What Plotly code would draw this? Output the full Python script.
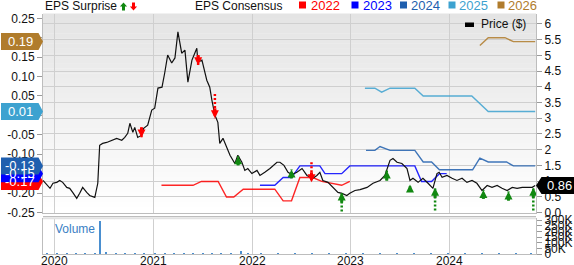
import plotly.graph_objects as go

# ---------------- data ----------------
price_dates = [
    "2019-11-18", "2019-12-03", "2019-12-14", "2019-12-25", "2020-01-08", "2020-01-19", "2020-01-30",
    "2020-02-14", "2020-02-25", "2020-03-07", "2020-03-22", "2020-04-02", "2020-04-13", "2020-04-28",
    "2020-05-09", "2020-05-28", "2020-06-08", "2020-06-15", "2020-06-26", "2020-07-11", "2020-07-30",
    "2020-08-17", "2020-09-05", "2020-09-16", "2020-09-27", "2020-10-05", "2020-10-16", "2020-10-23",
    "2020-11-03", "2020-11-18", "2020-11-25", "2020-12-10", "2020-12-25", "2021-01-05", "2021-01-17",
    "2021-02-01", "2021-02-11", "2021-02-22", "2021-03-09", "2021-03-21", "2021-04-01", "2021-04-15",
    "2021-04-27", "2021-05-08", "2021-05-23", "2021-06-10", "2021-06-14", "2021-06-29", "2021-07-17",
    "2021-07-28", "2021-08-05", "2021-08-16", "2021-08-27", "2021-09-03", "2021-09-15", "2021-09-29",
    "2021-10-11", "2021-10-29", "2021-11-09", "2021-11-24", "2021-12-05", "2021-12-16", "2021-12-31",
    "2022-01-19", "2022-01-30", "2022-02-17", "2022-03-08", "2022-04-03", "2022-04-14", "2022-04-29",
    "2022-05-14", "2022-05-28", "2022-06-16", "2022-07-05", "2022-07-23", "2022-08-14", "2022-08-29",
    "2022-09-09", "2022-09-20", "2022-10-09", "2022-10-28", "2022-11-15", "2022-11-30", "2022-12-18",
    "2022-12-29", "2023-01-17", "2023-02-05", "2023-03-03", "2023-03-25", "2023-04-20", "2023-05-08",
    "2023-05-16", "2023-05-27", "2023-06-07", "2023-06-22", "2023-07-10", "2023-07-29", "2023-08-09",
    "2023-08-20", "2023-09-08", "2023-09-26", "2023-10-15", "2023-11-02", "2023-11-17", "2023-11-25",
    "2023-12-06", "2023-12-24", "2024-01-12", "2024-01-30", "2024-02-18", "2024-03-07", "2024-03-26",
    "2024-04-13", "2024-05-02", "2024-05-21", "2024-06-08", "2024-06-27", "2024-07-15", "2024-08-03",
    "2024-08-22", "2024-09-09", "2024-09-28", "2024-10-16", "2024-11-04", "2024-11-15",
]
price_values = [
    1.02, 0.86, 0.77, 0.93, 0.96, 1.02, 0.96,
    0.80, 0.77, 0.64, 0.45, 0.61, 0.80, 0.64,
    0.54, 0.48, 0.93, 2.14, 2.20, 2.23, 2.30,
    2.36, 2.30, 2.39, 2.52, 2.84, 2.55, 2.71,
    2.39, 2.46, 2.68, 2.78, 3.26, 3.32, 3.96,
    3.99, 4.44, 5.01, 4.76, 4.92, 5.75, 5.07,
    5.17, 4.15, 4.85, 5.23, 4.79, 4.85, 4.21,
    3.99, 3.57, 3.10, 2.87, 2.20, 2.36, 2.07,
    1.82, 1.56, 1.82, 1.60, 1.34, 1.40, 1.24,
    1.34, 1.18, 1.28, 1.40, 1.60, 1.60, 1.50,
    1.28, 1.21, 1.28, 1.40, 1.18, 1.09, 1.18,
    1.28, 1.02, 0.96, 0.80, 0.64, 0.61, 0.54,
    0.61, 0.70, 0.73, 0.80, 0.93, 1.02, 1.18,
    1.40, 1.66, 1.72, 1.60, 1.56, 1.40, 1.02,
    1.09, 0.96, 1.09, 0.93, 0.77, 1.24, 1.28,
    1.12, 1.18, 1.09, 1.02, 1.09, 0.96, 1.02,
    0.93, 0.70, 0.86, 0.80, 0.86, 0.77, 0.70,
    0.80, 0.77, 0.80, 0.80, 0.80, 0.86,
]

cons_2022_dates = ["2021-01-30", "2021-05-27", "2021-06-27", "2021-08-28", "2021-09-28", "2021-10-25",
                   "2021-11-29", "2022-03-26", "2022-04-26", "2022-05-27", "2022-06-27", "2022-08-14",
                   "2022-09-16", "2022-11-29", "2022-12-29"]
cons_2022_values = [-0.18, -0.18, -0.17, -0.17, -0.21, -0.21, -0.19, -0.19, -0.22, -0.22, -0.16, -0.16,
                    -0.17, -0.18, -0.17]

cons_2023_dates = ["2022-01-30", "2022-03-26", "2022-04-26", "2022-05-27", "2022-06-27", "2022-09-09",
                   "2022-09-28", "2022-11-29", "2022-12-29", "2023-08-27", "2023-09-21", "2023-10-28",
                   "2023-11-26", "2023-12-23"]
cons_2023_values = [-0.18, -0.18, -0.16, -0.16, -0.13, -0.13, -0.15, -0.15, -0.13, -0.13, -0.17, -0.17,
                    -0.15, -0.15]

cons_2024_dates = ["2023-02-27", "2023-04-01", "2023-04-20", "2023-05-27", "2023-08-27", "2023-09-27",
                   "2023-10-28", "2023-11-26", "2024-03-28", "2024-04-24", "2024-05-25", "2024-08-01",
                   "2024-08-26", "2024-11-15"]
cons_2024_values = [-0.09, -0.09, -0.08, -0.09, -0.09, -0.12, -0.12, -0.14, -0.14, -0.11, -0.12, -0.12,
                    -0.13, -0.13]

cons_2025_dates = ["2023-02-23", "2023-04-01", "2023-04-26", "2023-05-27", "2023-08-27", "2023-09-27",
                   "2024-03-25", "2024-05-25", "2024-11-15"]
cons_2025_values = [0.07, 0.07, 0.06, 0.07, 0.07, 0.05, 0.05, 0.01, 0.01]

cons_2026_dates = ["2024-04-24", "2024-05-25", "2024-07-26", "2024-08-26", "2024-11-15"]
cons_2026_values = [0.18, 0.20, 0.20, 0.19, 0.19]

surprise_dates = ["2020-11-17", "2021-06-15", "2021-08-16", "2021-11-10", "2022-05-27", "2022-08-09",
                  "2022-11-29", "2023-05-15", "2023-08-09", "2023-11-10", "2024-05-07", "2024-08-08",
                  "2024-11-08"]
surprise_tip = [2.39, 4.69, 3.00, 1.79, 1.37, 0.96, 0.64, 1.34, 0.89, 0.79, 0.72, 0.67, 0.79]
surprise_tail = [2.71, 5.01, 3.77, 1.50, 1.09, 1.60, 0.03, 1.02, 0.65, 0.06, 0.44, 0.38, 0.06]
surprise_beat = [False, False, False, True, True, False, True, True, True, True, True, True, True]

volume_dates = ["2019-12-05", "2020-01-10", "2020-02-14", "2020-03-20", "2020-04-24", "2020-05-29",
                "2020-06-18", "2020-07-10", "2020-08-14", "2020-09-18", "2020-10-23", "2020-11-27",
                "2021-01-08", "2021-02-12", "2021-03-19", "2021-04-23", "2021-05-28", "2021-07-02",
                "2021-08-06", "2021-09-10", "2021-10-15", "2021-11-22", "2021-12-17", "2022-02-04",
                "2022-04-08", "2022-06-10", "2022-08-12", "2022-10-14", "2022-12-16", "2023-02-17",
                "2023-04-21", "2023-06-23", "2023-08-25", "2023-10-27", "2023-12-29", "2024-03-01",
                "2024-05-03", "2024-07-05", "2024-09-06", "2024-11-01"]
volume_values = [2500, 1800, 3000, 4200, 2600, 3500,
                 292000, 9000, 6000, 5500, 4800, 7000,
                 6500, 5200, 4000, 3600, 3000, 3800,
                 2900, 2500, 3100, 24000, 4500, 2800,
                 2200, 2000, 2600, 1800, 2400, 1600,
                 1500, 2000, 1700, 2200, 1400, 1300,
                 1800, 1200, 1500, 2500]

year_ticks = ["2020-01-01", "2021-01-01", "2022-01-01", "2023-01-01", "2024-01-01"]
year_labels = ["2020", "2021", "2022", "2023", "2024"]
eps_ticks = [-0.25, -0.20, -0.15, -0.10, -0.05, 0.00, 0.05, 0.10, 0.15, 0.20, 0.25]
eps_labels = ["-0.25", "-0.20", "-0.15", "-0.10", "-0.05", "0.00", "0.05", "0.10", "0.15", "0.20", "0.25"]
price_ticks = [0, 0.5, 1, 1.5, 2, 2.5, 3, 3.5, 4, 4.5, 5, 5.5, 6]
price_labels = ["0.0", "0.5", "1", "1.5", "2", "2.5", "3", "3.5", "4", "4.5", "5", "5.5", "6"]
vol_ticks = [0, 50000, 100000, 150000, 200000, 250000, 300000]
vol_labels = ["0", "50K", "100K", "150K", "200K", "250K", "300K"]

# ---------------- styling / geometry ----------------
W, H = 574, 265
ML, MR, MT, MB = 43, 38, 14, 11
PW, PH = W - ML - MR, H - MT - MB
FONT = "Liberation Sans, Arial, sans-serif"
GRID = "#cfcfcf"
C22, C23, C24, C25, C26 = "#ff0000", "#0000ff", "#1f5fae", "#3da2d0", "#b07c2c"
GREEN, RED = "#118811", "#ff0000"

EPS_RANGE = [-0.25, 0.2611]
PRICE_RANGE = [0, 6.318]
EPS_PER_PX = (EPS_RANGE[1] - EPS_RANGE[0]) / (212.5 - 14)
PRICE_PER_PX = (PRICE_RANGE[1] - PRICE_RANGE[0]) / (212.5 - 14)


def px_x(X):
    return (X - ML) / PW


def px_y(Y):
    return (H - MB - Y) / PH


main_dom = [px_y(212.5), 1]
vol_dom = [0, px_y(219)]

fig = go.Figure()

# gradient background of the main panel
nb = 40
for i in range(nb):
    f = (i + 0.5) / nb
    c = int(round(228 + 27 * f))
    fig.add_shape(type="rect", xref="x domain", yref="y domain",
                  x0=0, x1=1, y0=1 - (i + 1) / nb, y1=1 - i / nb + 0.002,
                  fillcolor=f"rgb({c},{c},{c})", line_width=0, layer="below")

# consensus lines
for d, v, c in [(cons_2022_dates, cons_2022_values, C22), (cons_2023_dates, cons_2023_values, C23),
                (cons_2024_dates, cons_2024_values, C24), (cons_2025_dates, cons_2025_values, C25),
                (cons_2026_dates, cons_2026_values, C26)]:
    fig.add_trace(go.Scatter(x=d, y=v, mode="lines", line=dict(color=c, width=1.4),
                             opacity=0.85, xaxis="x", yaxis="y", showlegend=False, hoverinfo="skip"))

# price line
fig.add_trace(go.Scatter(x=price_dates, y=price_values, mode="lines",
                         line=dict(color="#111111", width=1.2), xaxis="x", yaxis="y2",
                         showlegend=False))

# surprise arrows
for beat, col in [(True, GREEN), (False, RED)]:
    dx, dy, sx, sy, hx, hy = [], [], [], [], [], []
    for d, tip, tail, b in zip(surprise_dates, surprise_tip, surprise_tail, surprise_beat):
        if b != beat:
            continue
        sgn = -1 if beat else 1
        stem_end = tip + sgn * min(abs(tail - tip), 10 * PRICE_PER_PX)
        dx += [d, d, None]
        dy += [tail, tip, None]
        sx += [d, d, None]
        sy += [tip + sgn * 4 * PRICE_PER_PX, stem_end, None]
        hx.append(d)
        hy.append(tip)
    fig.add_trace(go.Scatter(x=dx, y=dy, mode="lines", line=dict(color=col, width=2.5, dash="2px,2px"),
                             xaxis="x", yaxis="y2", showlegend=False, hoverinfo="skip"))
    fig.add_trace(go.Scatter(x=sx, y=sy, mode="lines", line=dict(color=col, width=3),
                             xaxis="x", yaxis="y2", showlegend=False, hoverinfo="skip"))
    fig.add_trace(go.Scatter(x=hx, y=hy, mode="markers",
                             marker=dict(symbol="arrow-up" if beat else "arrow-down", size=8, color=col,
                                         line=dict(width=0)),
                             xaxis="x", yaxis="y2", showlegend=False, hoverinfo="skip"))

# volume
fig.add_trace(go.Bar(x=volume_dates, y=volume_values, width=5 * 86400000,
                     marker=dict(color="#4a8fd0", line_width=0), xaxis="x2", yaxis="y3",
                     showlegend=False))

# axes
fig.update_layout(
    width=W, height=H, margin=dict(l=ML, r=MR, t=MT, b=MB, autoexpand=False),
    paper_bgcolor="white", plot_bgcolor="rgba(0,0,0,0)",
    font=dict(family=FONT, size=12, color="#111111"),
    xaxis=dict(domain=[0, 1], anchor="y", type="date", range=["2019-11-18", "2024-11-18"],
               tickvals=year_ticks, showticklabels=False, ticks="", showgrid=True, gridcolor=GRID,
               gridwidth=1, showline=True, linecolor="#bdbdbd", zeroline=False, automargin=False),
    yaxis=dict(domain=main_dom, anchor="x", range=EPS_RANGE, tickvals=eps_ticks, ticktext=eps_labels,
               ticks="outside", ticklen=5, tickcolor="#9a9a9a", showgrid=False, zeroline=False,
               showline=True, linecolor="#bdbdbd", tickfont=dict(size=12), automargin=False),
    yaxis2=dict(overlaying="y", side="right", anchor="x", range=PRICE_RANGE, tickvals=price_ticks,
                ticktext=price_labels, ticks="outside", ticklen=5, tickcolor="#9a9a9a", showgrid=True,
                gridcolor=GRID, zeroline=False, showline=True, linecolor="#bdbdbd",
                tickfont=dict(size=12), automargin=False),
    xaxis2=dict(domain=[0, 1], anchor="y3", type="date", matches="x", tickvals=year_ticks,
                showticklabels=False, ticks="", showgrid=True, gridcolor=GRID, showline=True,
                linecolor="#bdbdbd", mirror=True, zeroline=False, automargin=False),
    yaxis3=dict(domain=vol_dom, anchor="x2", side="right", range=[0, 310000], tickvals=vol_ticks,
                ticktext=vol_labels, ticks="outside", ticklen=5, tickcolor="#9a9a9a", showgrid=False,
                zeroline=False, showline=True, linecolor="#bdbdbd", mirror=True,
                tickfont=dict(size=12), automargin=False),
    bargap=0,
)

# year labels under the volume panel
for tv, tl in zip(year_ticks, year_labels):
    fig.add_annotation(text=tl, xref="x2", yref="paper", x=tv, y=px_y(260.5), xanchor="center",
                       yanchor="middle", showarrow=False, font=dict(size=12, color="#111111"))

# volume panel top border
fig.add_shape(type="line", xref="paper", yref="paper", x0=0, x1=1, y0=px_y(216.5), y1=px_y(216.5),
              line=dict(color="#bdbdbd", width=1))
fig.add_shape(type="line", xref="paper", yref="paper", x0=0, x1=1, y0=px_y(218.3), y1=px_y(218.3),
              line=dict(color="#e2e2e2", width=2))

fig.add_annotation(text="Volume", xref="paper", yref="paper", x=px_x(53), y=px_y(229),
                   xanchor="left", yanchor="middle", showarrow=False,
                   font=dict(size=12, color="#3a80c4"))

# left value labels (pentagons)
half_eps = 8.5 * EPS_PER_PX
for val, col, txt in [(-0.17, C22, "-0.17"), (-0.15, C23, "-0.15"), (-0.13, C24, "-0.13"),
                      (0.01, C25, "0.01"), (0.19, C26, "0.19")]:
    x0, x1, xt = px_x(1), px_x(38.5), px_x(43)
    path = (f"M {x0},{val - half_eps} L {x1},{val - half_eps} L {xt},{val} "
            f"L {x1},{val + half_eps} L {x0},{val + half_eps} Z")
    fig.add_shape(type="path", xref="paper", yref="y", path=path, fillcolor=col, line_width=0)
    fig.add_annotation(text=txt, xref="paper", yref="y", x=px_x(20), y=val, showarrow=False,
                       xanchor="center", yanchor="middle", font=dict(size=13, color="white"))

# right price label
last_price = price_values[-1]
half_p = 8.5 * PRICE_PER_PX
xa, xb, xc = px_x(536), px_x(541.5), px_x(574)
fig.add_shape(type="path", xref="paper", yref="y2",
              path=(f"M {xa},{last_price} L {xb},{last_price + half_p} L {xc},{last_price + half_p} "
                    f"L {xc},{last_price - half_p} L {xb},{last_price - half_p} Z"),
              fillcolor="#000000", line_width=0)
fig.add_annotation(text=f"{last_price:.2f}", xref="paper", yref="y2", x=px_x(545), y=last_price,
                   xanchor="left", yanchor="middle", showarrow=False,
                   font=dict(size=13, color="white"))

# header
hy = px_y(5.5)
fig.add_annotation(text="EPS Surprise", xref="paper", yref="paper", x=px_x(42.5), y=hy,
                   xanchor="left", yanchor="middle", showarrow=False, font=dict(size=12, color="#111111"))
fig.add_annotation(text="EPS Consensus", xref="paper", yref="paper", x=px_x(192.5), y=hy,
                   xanchor="left", yanchor="middle", showarrow=False, font=dict(size=12, color="#111111"))


def arrow_path(cx, top, bottom, up):
    hw, sw, hh = 3.6, 1.5, 4.0
    if up:
        pts = [(cx, top), (cx + hw, top + hh), (cx + sw, top + hh), (cx + sw, bottom),
               (cx - sw, bottom), (cx - sw, top + hh), (cx - hw, top + hh)]
    else:
        pts = [(cx, bottom), (cx + hw, bottom - hh), (cx + sw, bottom - hh), (cx + sw, top),
               (cx - sw, top), (cx - sw, bottom - hh), (cx - hw, bottom - hh)]
    s = " L ".join(f"{px_x(a)},{px_y(b)}" for a, b in pts)
    return "M " + s + " Z"


fig.add_shape(type="path", xref="paper", yref="paper", path=arrow_path(123.5, 2.5, 10.5, True),
              fillcolor=GREEN, line_width=0)
fig.add_shape(type="path", xref="paper", yref="paper", path=arrow_path(133.5, 2.5, 10.5, False),
              fillcolor=RED, line_width=0)

for sx0, tx, col, txt in [(299, 309, C22, "2022"), (351.5, 361, C23, "2023"), (400, 408.5, C24, "2024"),
                          (448.5, 457, C25, "2025"), (497.5, 506, C26, "2026")]:
    fig.add_shape(type="rect", xref="paper", yref="paper", x0=px_x(sx0), x1=px_x(sx0 + 7),
                  y0=px_y(8.5), y1=px_y(1.5), fillcolor=col, line_width=0)
    fig.add_annotation(text=txt, xref="paper", yref="paper", x=px_x(tx), y=hy, xanchor="left",
                       yanchor="middle", showarrow=False, font=dict(size=13, color=col))

# price legend inside plot
fig.add_shape(type="rect", xref="paper", yref="paper", x0=px_x(465), x1=px_x(474),
              y0=px_y(27), y1=px_y(22.5), fillcolor="#000000", line_width=0)
fig.add_annotation(text="Price ($)", xref="paper", yref="paper", x=px_x(479), y=px_y(24.5),
                   xanchor="left", yanchor="middle", showarrow=False, font=dict(size=12, color="#111111"))

fig.write_html("out.html")
